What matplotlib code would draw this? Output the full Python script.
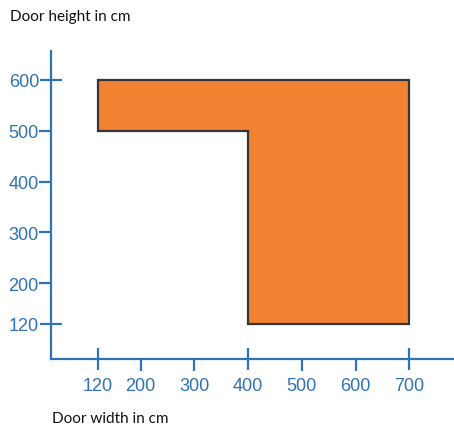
import matplotlib
matplotlib.use("Agg")
import matplotlib.pyplot as plt

# outline of the door-size region (width cm, height cm)
door_width = [120, 700, 700, 400, 400, 120]
door_height = [600, 600, 120, 120, 500, 500]

x_major = [120, 400, 700]
x_minor = [200, 300, 500, 600]
y_major = [120, 600]
y_minor = [200, 300, 400, 500]

blue = '#2E72B8'
orange = '#F08231'

fig = plt.figure(figsize=(4.54, 4.31), dpi=100)
W, H = 454, 431
ax = fig.add_axes([51 / W, (H - 360) / H, (W - 51) / W, (360 - 52) / H])

ax.fill(door_width, door_height, facecolor=orange, edgecolor='#363636',
        linewidth=1.6, joinstyle='miter')

ax.set_xlim(33.5, 783)
ax.set_ylim(51, 657)

for side in ['top', 'right']:
    ax.spines[side].set_visible(False)
for side in ['left', 'bottom']:
    ax.spines[side].set_color(blue)
    ax.spines[side].set_linewidth(1.6)

ax.set_xticks(x_major)
ax.set_xticks(x_minor, minor=True)
ax.set_xticklabels([str(v) for v in x_major])
ax.set_xticklabels([str(v) for v in x_minor], minor=True)
ax.set_yticks(y_major)
ax.set_yticks(y_minor, minor=True)
ax.set_yticklabels([str(v) for v in y_major])
ax.set_yticklabels([str(v) for v in y_minor], minor=True)

for lab in ax.get_xticklabels(which='both') + ax.get_yticklabels(which='both'):
    lab.set_fontfamily('Liberation Sans')
    lab.set_fontsize(13)

ax.tick_params(axis='both', which='major', direction='inout', length=16.5,
               width=1.6, color=blue, labelcolor=blue)
ax.tick_params(axis='both', which='minor', direction='out', length=8.6,
               width=1.6, color=blue, labelcolor=blue)
ax.tick_params(axis='x', which='both', pad=4.5)
ax.tick_params(axis='y', which='both', pad=0.3)

fig.text(10 / W, 1 - 17 / H, 'Door height in cm', fontsize=11, family='Lato',
         va='center', ha='left', color='#111111')
fig.text(52 / W, 1 - 419 / H, 'Door width in cm', fontsize=11, family='Lato',
         va='center', ha='left', color='#111111')

fig.savefig('out.png', dpi=100)
